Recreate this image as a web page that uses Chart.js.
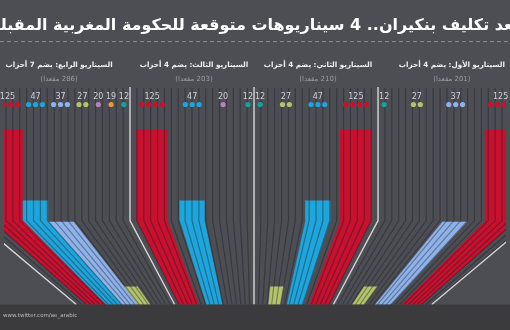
<!DOCTYPE html>
<html>
<head>
<meta charset="utf-8">
<script src="https://cdn.jsdelivr.net/npm/chart.js@4.4.0/dist/chart.umd.min.js"></script>
<style>
  html, body { margin: 0; padding: 0; background: #4c4e54; overflow: hidden; }
  canvas { display: block; }
</style>
</head>
<body>
<canvas id="c" width="510" height="330"></canvas>
<script>
// ---------------- DATA ----------------
const chartTitle = 'بعد تكليف بنكيران.. 4 سيناريوهات متوقعة للحكومة المغربية المقبلة';
const footerText = 'www.twitter.com/ae_arabic';
const scenarioTitles = [
  'السيناريو الأول: يضم 4 أحزاب',
  'السيناريو الثاني: يضم 4 أحزاب',
  'السيناريو الثالث: يضم 4 أحزاب',
  'السيناريو الرابع: يضم 7 أحزاب'
];
const scenarioSeats = [201, 210, 203, 286];
const scenario1 = [125, 37, 27, 12];
const scenario2 = [125, 47, 27, 12];
const scenario3 = [125, 47, 20, 12];
const scenario4 = [125, 47, 37, 27, 20, 19, 12];
const scenarios = [scenario1, scenario2, scenario3, scenario4];
// parties (identified by their seat count)
const partySeats = [125, 47, 37, 27, 20, 19, 12];

// ---------------- STYLE / LAYOUT ----------------
const partyColors = ['#c8102f', '#1ea5db', '#8eb2e9', '#b3c46b', '#b584b9', '#e69a3c', '#16a39b'];
const W = 510, H = 330;
const cx = 254, yBend = 222, yBase = 308, yStripeTop = 86, squeeze = 0.64;
const stripeStep = 7, unit = 6.2, dotStep = 7;
// panels in reading order (right to left): inner edge, outer edge, padding, heading centre
const panels = [
  { inner: 380, outer: 536, pad: 16, head: 455 },
  { inner: 254, outer: 380, pad: 7, head: 319 },
  { inner: 254, outer: 128, pad: 7, head: 193 },
  { inner: 128, outer: -28, pad: 16, head: 56 }
];
const dividers = [-28, 128, 254, 380, 536];

function colorOf(v) { return partyColors[partySeats.indexOf(v)]; }
function dotsOf(v) { return v >= 100 ? 4 : v >= 30 ? 3 : v >= 21 ? 2 : 1; }
// bar length scale (power scale above a threshold)
function barLen(v) { return v > 26.9 ? 39.6 * Math.pow(v - 26.9, 0.33) : 0; }
function bendX(x, y) {
  if (y <= yBend) return x;
  const t = (y - yBend) / (yBase - yBend);
  return x + (cx - x) * (1 - squeeze) * t;
}

// ---------------- BUILD DATASETS ----------------
const datasets = [];
const labels = [];
const dotPts = [], dotCols = [];

for (let k = -40; k <= 40; k++) {
  const x = cx + k * stripeStep;
  if (x < -28 || x > 536 || dividers.includes(x)) continue;
  datasets.push({
    type: 'scatter', showLine: true, order: 2,
    data: [{x, y: yStripeTop}, {x, y: yBend}, {x: bendX(x, yBase), y: yBase}],
    borderColor: 'rgba(28,28,34,0.4)', borderWidth: 1.2, pointRadius: 0, fill: false
  });
}
dividers.forEach(x => {
  datasets.push({
    type: 'scatter', showLine: true, order: 1,
    data: [{x, y: yStripeTop - 1}, {x, y: yBend}, {x: bendX(x, yBase), y: yBase}],
    borderColor: '#d6d6d6', borderWidth: 1.4, pointRadius: 0, fill: false
  });
});

scenarios.forEach((vals, i) => {
  const p = panels[i];
  const dir = Math.sign(p.outer - p.inner);
  const usable = Math.abs(p.outer - p.inner) - p.pad;
  const sorted = vals.slice().sort((a, b) => a - b);
  const totalSlots = sorted.reduce((s, v) => s + dotsOf(v) + 1, 0);
  const gap = Math.max(0, (usable - totalSlots * unit) / (sorted.length - 1));
  let start = 0;
  sorted.forEach(v => {
    const a = start, b = start + (dotsOf(v) + 1) * unit;
    start = b + gap;
    const xa = p.inner + dir * a, xb = p.inner + dir * b;
    const x0 = Math.min(xa, xb), x1 = Math.max(xa, xb);
    const xc = (x0 + x1) / 2;
    labels.push({ x: xc, text: String(v) });
    const n = dotsOf(v);
    for (let d = 0; d < n; d++) {
      dotPts.push({ x: xc + (d - (n - 1) / 2) * dotStep, y: 103 });
      dotCols.push(colorOf(v));
    }
    const len = barLen(v);
    if (len > 0) {
      const yT = yBase - len;
      const pts = [];
      pts.push({ x: bendX(x0, yT), y: yT });
      if (yT < yBend) pts.push({ x: x0, y: yBend });
      pts.push({ x: bendX(x0, yBase), y: yBase });
      pts.push({ x: bendX(x1, yBase), y: yBase });
      if (yT < yBend) pts.push({ x: x1, y: yBend });
      pts.push({ x: bendX(x1, yT), y: yT });
      datasets.push({
        type: 'scatter', showLine: true, order: 3,
        data: pts, backgroundColor: colorOf(v), borderColor: colorOf(v),
        borderWidth: 0.5, pointRadius: 0, fill: 'shape', tension: 0
      });
    }
  });
});

datasets.push({
  type: 'scatter', order: 0, data: dotPts,
  pointBackgroundColor: dotCols, pointBorderWidth: 0, pointRadius: 2.6, showLine: false
});

// ---------------- TEXT PLUGIN ----------------
function fitFont(ctx, text, weight, family, targetW) {
  ctx.font = weight + ' 20px ' + family;
  const w = ctx.measureText(text).width;
  return 20 * targetW / w;
}
const textPlugin = {
  id: 'texts',
  beforeDraw(chart) {
    const ctx = chart.ctx;
    ctx.save();
    ctx.fillStyle = '#4c4e54';
    ctx.fillRect(0, 0, W, H);
    ctx.restore();
  },
  afterDraw(chart) {
    const ctx = chart.ctx, xs = chart.scales.x, ys = chart.scales.y;
    ctx.save();
    ctx.direction = 'rtl';
    ctx.textAlign = 'center';
    ctx.textBaseline = 'alphabetic';
    const fs = fitFont(ctx, chartTitle, 'bold', '"DejaVu Sans"', 528);
    ctx.font = 'bold ' + fs.toFixed(2) + 'px "DejaVu Sans"';
    ctx.fillStyle = '#ffffff';
    ctx.fillText(chartTitle, xs.getPixelForValue(255), ys.getPixelForValue(27));
    ctx.setLineDash([4, 3]);
    ctx.strokeStyle = '#8c8d91';
    ctx.lineWidth = 1;
    ctx.beginPath();
    ctx.moveTo(0, ys.getPixelForValue(38.5));
    ctx.lineTo(W, ys.getPixelForValue(38.5));
    ctx.stroke();
    ctx.setLineDash([]);
    const hs = fitFont(ctx, scenarioTitles[0], 'bold', '"DejaVu Sans"', 106);
    panels.forEach((p, i) => {
      ctx.font = 'bold ' + hs.toFixed(2) + 'px "DejaVu Sans"';
      ctx.fillStyle = '#f0f0f0';
      ctx.textBaseline = 'middle';
      ctx.fillText(scenarioTitles[i], xs.getPixelForValue(p.head), ys.getPixelForValue(63));
      ctx.font = '7px "DejaVu Sans"';
      ctx.fillStyle = '#9c9da1';
      ctx.fillText('(' + scenarioSeats[i] + ' مقعدا)', xs.getPixelForValue(p.head), ys.getPixelForValue(77.5));
    });
    ctx.direction = 'ltr';
    ctx.font = '8px "DejaVu Sans"';
    ctx.fillStyle = '#cfd0d3';
    labels.forEach(l => {
      ctx.fillText(l.text, xs.getPixelForValue(l.x), ys.getPixelForValue(95));
    });
    ctx.fillStyle = '#3b3b3d';
    ctx.fillRect(0, ys.getPixelForValue(yBase), W, H - ys.getPixelForValue(yBase));
    ctx.textAlign = 'left';
    ctx.font = '5.5px "DejaVu Sans"';
    ctx.fillStyle = '#b9b9bb';
    ctx.fillText(footerText, 3, ys.getPixelForValue(319));
    ctx.restore();
  }
};

new Chart(document.getElementById('c'), {
  type: 'scatter',
  data: { datasets },
  options: {
    responsive: false,
    animation: false,
    events: [],
    layout: { padding: 0 },
    plugins: { legend: { display: false }, tooltip: { enabled: false }, title: { display: false } },
    scales: {
      x: { type: 'linear', min: 0, max: W, display: false },
      y: { type: 'linear', min: 0, max: H, reverse: true, display: false }
    }
  },
  plugins: [textPlugin]
});
</script>
</body>
</html>
